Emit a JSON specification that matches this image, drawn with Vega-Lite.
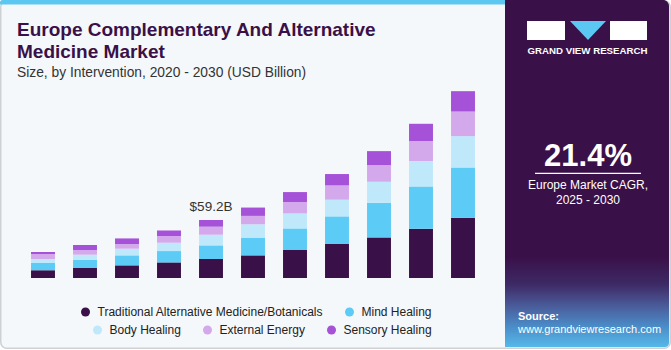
{
  "$schema": "https://vega.github.io/schema/vega-lite/v6.json",
  "width": 462,
  "height": 193,
  "autosize": {"type": "none"},
  "padding": {"left": 22, "top": 85, "right": 187, "bottom": 72},
  "background": "#ffffff",
  "config": {"view": {"stroke": null}, "font": "Liberation Sans"},
  "datasets": {
    "market": [
      {"year": "2020", "series": "Traditional Alternative Medicine/Botanicals", "value": 7.8},
      {"year": "2020", "series": "Mind Healing", "value": 7.5},
      {"year": "2020", "series": "Body Healing", "value": 4.1},
      {"year": "2020", "series": "External Energy", "value": 5.1},
      {"year": "2020", "series": "Sensory Healing", "value": 2.0},
      {"year": "2021", "series": "Traditional Alternative Medicine/Botanicals", "value": 10.2},
      {"year": "2021", "series": "Mind Healing", "value": 8.5},
      {"year": "2021", "series": "Body Healing", "value": 5.1},
      {"year": "2021", "series": "External Energy", "value": 4.8},
      {"year": "2021", "series": "Sensory Healing", "value": 5.1},
      {"year": "2022", "series": "Traditional Alternative Medicine/Botanicals", "value": 12.9},
      {"year": "2022", "series": "Mind Healing", "value": 10.2},
      {"year": "2022", "series": "Body Healing", "value": 6.8},
      {"year": "2022", "series": "External Energy", "value": 4.8},
      {"year": "2022", "series": "Sensory Healing", "value": 5.7},
      {"year": "2023", "series": "Traditional Alternative Medicine/Botanicals", "value": 15.9},
      {"year": "2023", "series": "Mind Healing", "value": 11.6},
      {"year": "2023", "series": "Body Healing", "value": 8.5},
      {"year": "2023", "series": "External Energy", "value": 6.8},
      {"year": "2023", "series": "Sensory Healing", "value": 5.7},
      {"year": "2024", "series": "Traditional Alternative Medicine/Botanicals", "value": 19.4},
      {"year": "2024", "series": "Mind Healing", "value": 13.9},
      {"year": "2024", "series": "Body Healing", "value": 10.9},
      {"year": "2024", "series": "External Energy", "value": 8.2},
      {"year": "2024", "series": "Sensory Healing", "value": 6.8},
      {"year": "2025", "series": "Traditional Alternative Medicine/Botanicals", "value": 23.1},
      {"year": "2025", "series": "Mind Healing", "value": 18.1},
      {"year": "2025", "series": "Body Healing", "value": 13.6},
      {"year": "2025", "series": "External Energy", "value": 8.6},
      {"year": "2025", "series": "Sensory Healing", "value": 8.5},
      {"year": "2026", "series": "Traditional Alternative Medicine/Botanicals", "value": 28.6},
      {"year": "2026", "series": "Mind Healing", "value": 22.0},
      {"year": "2026", "series": "Body Healing", "value": 15.3},
      {"year": "2026", "series": "External Energy", "value": 11.6},
      {"year": "2026", "series": "Sensory Healing", "value": 10.2},
      {"year": "2027", "series": "Traditional Alternative Medicine/Botanicals", "value": 34.7},
      {"year": "2027", "series": "Mind Healing", "value": 28.2},
      {"year": "2027", "series": "Body Healing", "value": 17.0},
      {"year": "2027", "series": "External Energy", "value": 14.6},
      {"year": "2027", "series": "Sensory Healing", "value": 11.6},
      {"year": "2028", "series": "Traditional Alternative Medicine/Botanicals", "value": 41.4},
      {"year": "2028", "series": "Mind Healing", "value": 35.4},
      {"year": "2028", "series": "Body Healing", "value": 21.4},
      {"year": "2028", "series": "External Energy", "value": 17.0},
      {"year": "2028", "series": "Sensory Healing", "value": 14.3},
      {"year": "2029", "series": "Traditional Alternative Medicine/Botanicals", "value": 50.3},
      {"year": "2029", "series": "Mind Healing", "value": 43.2},
      {"year": "2029", "series": "Body Healing", "value": 25.9},
      {"year": "2029", "series": "External Energy", "value": 20.4},
      {"year": "2029", "series": "Sensory Healing", "value": 17.6},
      {"year": "2030", "series": "Traditional Alternative Medicine/Botanicals", "value": 61.5},
      {"year": "2030", "series": "Mind Healing", "value": 51.3},
      {"year": "2030", "series": "Body Healing", "value": 32.0},
      {"year": "2030", "series": "External Energy", "value": 25.1},
      {"year": "2030", "series": "Sensory Healing", "value": 20.8}
    ],
    "one": [{}]
  },
  "layer": [
    {
      "data": {"name": "one"},
      "mark": {"type": "rect", "fill": "#f4f8fb", "stroke": "#cdd1d4", "strokeWidth": 1.5, "cornerRadius": 6},
      "encoding": {"x": {"value": -21.25}, "x2": {"value": 648.25}, "y": {"value": -84.25}, "y2": {"value": 263.25}}
    },
    {
      "data": {"name": "one"},
      "mark": {"type": "rect", "fill": "#5cc8f2", "cornerRadiusTopLeft": 4},
      "encoding": {"x": {"value": -22}, "x2": {"value": 486}, "y": {"value": -85}, "y2": {"value": -80.5}}
    },
    {
      "data": {"name": "one"},
      "mark": {
        "type": "rect",
        "cornerRadiusTopRight": 6,
        "cornerRadiusBottomRight": 4,
        "fill": {
          "gradient": "linear", "x1": 0, "y1": 0, "x2": 0, "y2": 1,
          "stops": [
            {"offset": 0, "color": "#3a1048"},
            {"offset": 0.74, "color": "#3a1048"},
            {"offset": 0.82, "color": "#3d2a66"},
            {"offset": 0.88, "color": "#4a5a98"},
            {"offset": 0.94, "color": "#4a8cc8"},
            {"offset": 1, "color": "#55b8e8"}
          ]
        }
      },
      "encoding": {"x": {"value": 483}, "x2": {"value": 647}, "y": {"value": -85}, "y2": {"value": 262}}
    },
    {
      "data": {"name": "one"},
      "mark": {"type": "rect", "fill": "#ffffff"},
      "encoding": {"x": {"value": 505}, "x2": {"value": 543}, "y": {"value": -64}, "y2": {"value": -45}}
    },
    {
      "data": {"name": "one"},
      "mark": {"type": "rect", "fill": "#ffffff"},
      "encoding": {"x": {"value": 588}, "x2": {"value": 625}, "y": {"value": -64}, "y2": {"value": -45}}
    },
    {
      "data": {"name": "one"},
      "mark": {"type": "point", "shape": "M -1 -0.53 L 1 -0.53 L 0 0.53 Z", "filled": true, "fill": "#5bc8f3", "opacity": 1, "strokeWidth": 0, "size": 1296},
      "encoding": {"x": {"value": 566}, "y": {"value": -54.5}}
    },
    {
      "data": {"name": "one"},
      "mark": {"type": "text", "text": "GRAND VIEW RESEARCH", "font": "Liberation Sans", "fontWeight": "bold", "fontSize": 9.7, "fill": "#ffffff", "align": "center", "baseline": "alphabetic"},
      "encoding": {"x": {"value": 565.5}, "y": {"value": -31}}
    },
    {
      "data": {"name": "one"},
      "mark": {"type": "text", "text": ["Europe Complementary And Alternative", "Medicine Market"], "lineHeight": 22, "font": "Liberation Sans", "fontWeight": "bold", "fontSize": 19, "fill": "#3a1048", "align": "left", "baseline": "alphabetic"},
      "encoding": {"x": {"value": -5}, "y": {"value": -49.5}}
    },
    {
      "data": {"name": "one"},
      "mark": {"type": "text", "text": "Size, by Intervention, 2020 - 2030 (USD Billion)", "font": "Liberation Sans", "fontSize": 13.8, "fill": "#333333", "align": "left", "baseline": "alphabetic"},
      "encoding": {"x": {"value": -5}, "y": {"value": -8.3}}
    },
    {
      "data": {"name": "one"},
      "mark": {"type": "text", "text": "21.4%", "font": "Liberation Sans", "fontWeight": "bold", "fontSize": 31, "fill": "#ffffff", "align": "center", "baseline": "alphabetic"},
      "encoding": {"x": {"value": 566}, "y": {"value": 80.7}}
    },
    {
      "data": {"name": "one"},
      "mark": {"type": "rule", "stroke": "#ffffff", "strokeWidth": 1.2},
      "encoding": {"x": {"value": 513}, "x2": {"value": 619}, "y": {"value": 88.3}}
    },
    {
      "data": {"name": "one"},
      "mark": {"type": "text", "text": ["Europe Market CAGR,", "2025 - 2030"], "lineHeight": 15, "font": "Liberation Sans", "fontSize": 12, "fill": "#ffffff", "align": "center", "baseline": "alphabetic"},
      "encoding": {"x": {"value": 566}, "y": {"value": 104}}
    },
    {
      "data": {"name": "one"},
      "mark": {"type": "text", "text": "Source:", "font": "Liberation Sans", "fontWeight": "bold", "fontSize": 11, "fill": "#ffffff", "align": "left", "baseline": "alphabetic"},
      "encoding": {"x": {"value": 496}, "y": {"value": 235}}
    },
    {
      "data": {"name": "one"},
      "mark": {"type": "text", "text": "www.grandviewresearch.com", "font": "Liberation Sans", "fontSize": 11, "fill": "#ffffff", "align": "left", "baseline": "alphabetic"},
      "encoding": {"x": {"value": 496}, "y": {"value": 248}}
    },
    {
      "data": {"name": "market"},
      "transform": [
        {"calculate": "indexof(['Traditional Alternative Medicine/Botanicals','Mind Healing','Body Healing','External Energy','Sensory Healing'], datum.series)", "as": "ord"}
      ],
      "mark": {"type": "bar"},
      "encoding": {
        "x": {
          "field": "year", "type": "ordinal",
          "scale": {"paddingInner": 0.43, "paddingOuter": 0.215},
          "axis": {"title": null, "labelAngle": 0, "domain": false, "ticks": false, "labelFontSize": 13, "labelColor": "#333333", "labelPadding": 5, "labelFont": "Liberation Sans"}
        },
        "y": {
          "field": "value", "type": "quantitative", "stack": "zero",
          "scale": {"domain": [0, 197], "nice": false},
          "axis": null
        },
        "color": {
          "field": "series", "type": "nominal",
          "scale": {
            "domain": ["Traditional Alternative Medicine/Botanicals", "Mind Healing", "Body Healing", "External Energy", "Sensory Healing"],
            "range": ["#3a1048", "#5ccbf6", "#bfe9fa", "#d4a9ec", "#a551d8"]
          },
          "legend": {
            "values": ["Traditional Alternative Medicine/Botanicals", "Mind Healing"],
            "orient": "none", "direction": "horizontal", "legendX": 57.5, "legendY": 221,
            "title": null, "symbolType": "circle", "symbolSize": 81, "symbolStrokeWidth": 0,
            "labelFontSize": 12, "labelFont": "Liberation Sans", "labelColor": "#222222", "labelOffset": 6, "labelLimit": 0, "columnPadding": 20
          }
        },
        "order": {"field": "ord", "type": "quantitative"}
      }
    },
    {
      "data": {"name": "market"},
      "transform": [
        {"filter": "datum.year == '2024'"},
        {"aggregate": [{"op": "sum", "field": "value", "as": "total"}], "groupby": ["year"]},
        {"calculate": "'$' + format(datum.total, '.1f') + 'B'", "as": "label"}
      ],
      "mark": {"type": "text", "font": "Liberation Sans", "fontSize": 13.5, "fill": "#333333", "baseline": "alphabetic", "align": "center", "dy": -9},
      "encoding": {
        "x": {"field": "year", "type": "ordinal"},
        "y": {"field": "total", "type": "quantitative"},
        "text": {"field": "label"}
      }
    },
    {
      "data": {"name": "market"},
      "transform": [
        {"filter": "datum.series == 'Body Healing' || datum.series == 'External Energy' || datum.series == 'Sensory Healing'"}
      ],
      "mark": {"type": "point", "filled": true, "opacity": 0},
      "encoding": {
        "x": {"field": "year", "type": "ordinal"},
        "y": {"datum": 0},
        "fill": {
          "field": "series", "type": "nominal",
          "scale": {
            "domain": ["Body Healing", "External Energy", "Sensory Healing"],
            "range": ["#bfe9fa", "#d4a9ec", "#a551d8"]
          },
          "legend": {
            "orient": "none", "direction": "horizontal", "legendX": 69.5, "legendY": 239,
            "title": null, "symbolType": "circle", "symbolSize": 81, "symbolStrokeWidth": 0, "symbolOpacity": 1,
            "labelFontSize": 12, "labelFont": "Liberation Sans", "labelColor": "#222222", "labelOffset": 6, "labelLimit": 0, "columnPadding": 20
          }
        }
      }
    }
  ]
}
